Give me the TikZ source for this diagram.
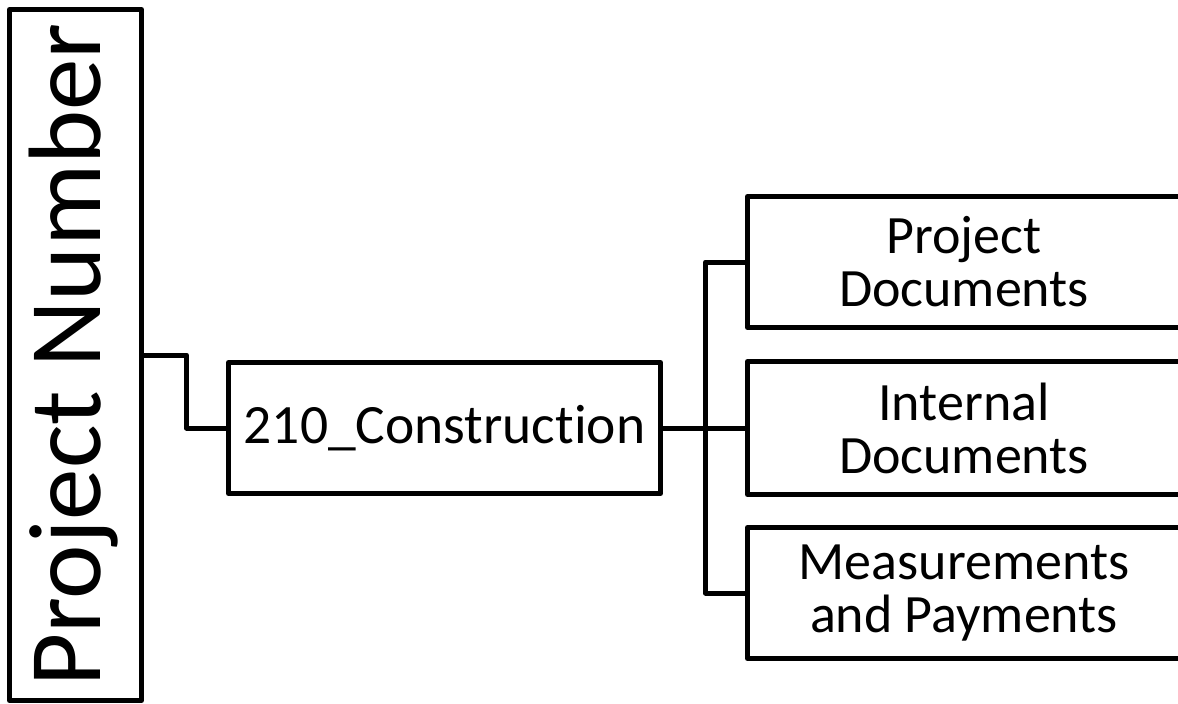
\documentclass[tikz,border=0pt]{standalone}
\usepackage{fontspec}
\setmainfont{Carlito}[Ligatures={NoCommon}]
\tikzset{
  box/.style={draw, line width=5pt, rectangle, inner sep=0pt, line join=round},
  link/.style={draw, line width=5pt, line join=round},
  big/.style={font=\fontsize{103}{103}\selectfont},
  label/.style={font=\fontsize{54}{53}\selectfont, align=center},
}
\begin{document}
\begin{tikzpicture}[x=1pt, y=-1pt]
  \clip (0,0) rectangle (1178,704);
  \fill[white] (0,0) rectangle (1178,704);

  % root folder, text set vertically
  \node[box, minimum width=132pt, minimum height=691pt] (pn) at (75.5,355) {};
  \node[big, rotate=90] (pntext) at ([xshift=-2pt]pn.center) {Project Number};

  % phase folder
  \node[box, font=\fontsize{55.5}{55}\selectfont, minimum width=432pt, minimum height=131pt] (con) at (444.5,428) {210\_Construction};

  % sub-folders, running off the right edge
  \node[box, label, minimum width=433pt, minimum height=131pt] (pd) at (964,262) {Project\\Documents};
  \node[box, label, minimum width=433pt, minimum height=133pt] (id) at (964,428) {Internal\\Documents};
  \node[box, label, minimum width=433pt, minimum height=131pt] (mp) at (964,593) {Measurements\\and Payments};

  % connectors
  \draw[link] (pn.east) -- ++(42.5,0) |- (con.west);
  \coordinate (j) at (705.5,428);
  \draw[link] (con.east) -- (j);
  \draw[link] (j) |- (pd.west);
  \draw[link] (j) |- (id.west);
  \draw[link] (j) |- (mp.west);
\end{tikzpicture}
\end{document}
